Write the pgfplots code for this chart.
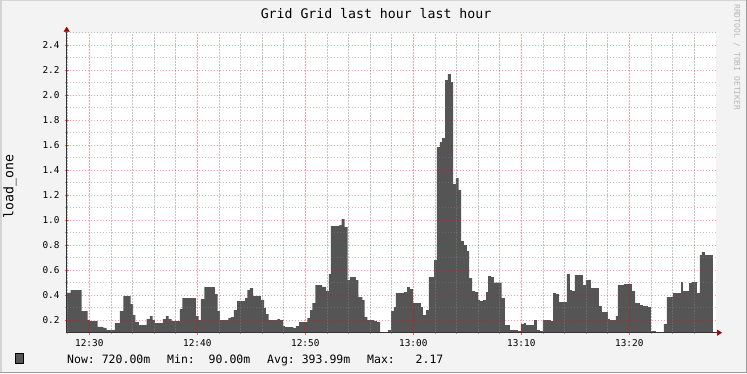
\documentclass[border=0pt]{standalone}
\usepackage{pgfplots}
\pgfplotsset{compat=1.18}
\usepackage{fontspec}
\setmainfont{DejaVu Sans Mono}
\usetikzlibrary{arrows.meta}
\definecolor{bg}{HTML}{F3F3F3}
\definecolor{areac}{HTML}{555555}
\definecolor{mgrid}{HTML}{FF0000}
\definecolor{arrowc}{HTML}{A00000}
\definecolor{shadea}{HTML}{D4D4D4}
\definecolor{shadeb}{HTML}{9A9A9A}
\begin{document}
\begin{tikzpicture}[x=1pt,y=1pt]
\useasboundingbox (0,0) rectangle (747,373);
\fill[bg] (0,0) rectangle (747,373);
\draw[shadea, line width=1.5pt] (0.75,0) -- (0.75,372.25) -- (747,372.25);
\draw[shadeb, line width=1.5pt] (0,0.75) -- (746.25,0.75) -- (746.25,373);
\begin{axis}[
  at={(66.7pt,40.3pt)}, anchor=south west,
  scale only axis, width=649.3pt, height=300pt,
  xmin=-2.09, xmax=58.03, ymin=0.1, ymax=2.5,
  axis background/.style={fill=white},
  axis on top,
  axis x line*=bottom, axis y line*=left,
  axis line style={draw=black!80, line width=0.7pt},
  x axis line style={-{Triangle[length=5pt,width=6pt,color=arrowc]}, shorten >=-6pt},
  y axis line style={-{Triangle[length=5pt,width=6pt,color=arrowc]}, shorten >=-6pt},
  xtick={0,10,20,30,40,50},
  xticklabels={12:30,12:40,12:50,13:00,13:10,13:20},
  minor xtick={-2,2,4,6,8,12,14,16,18,22,24,26,28,32,34,36,38,42,44,46,48,52,54,56},
  ytick={0.2,0.4,0.6,0.8,1.0,1.2,1.4,1.6,1.8,2.0,2.2,2.4},
  yticklabels={0.2,0.4,0.6,0.8,1.0,1.2,1.4,1.6,1.8,2.0,2.2,2.4},
  minor ytick={0.3,0.5,0.7,0.9,1.1,1.3,1.5,1.7,1.9,2.1,2.3,2.5},
  grid=both,
  major grid style={draw=mgrid, draw opacity=0.38, line width=0.6pt, dash pattern=on 1.5pt off 1.5pt},
  minor grid style={draw=gray, draw opacity=0.45, line width=0.6pt, dash pattern=on 1.5pt off 1.5pt},
  tick align=center, major tick length=4pt, minor tick length=3pt,
  major tick style={draw=mgrid, draw opacity=0.6, line width=0.6pt},
  minor tick style={draw=gray, draw opacity=0.6, line width=0.6pt},
  tick label style={font=\fontsize{9.4}{11}\selectfont, text=black},
  xticklabel style={anchor=base, inner sep=0pt, yshift=-12pt},
  yticklabel style={anchor=east, inner sep=0pt, xshift=-5pt},
  /pgf/number format/assume math mode=true,
  clip=true,
]
\addplot[const plot, fill=areac, draw=none] coordinates {
(-2.04,0.418) (-1.72,0.44) (-0.70,0.272) (-0.15,0.2) (0.06,0.192) (0.78,0.146)
(1.30,0.139) (1.61,0.12) (2.38,0.176) (2.84,0.272) (3.15,0.392) (3.83,0.328)
(4.07,0.24) (4.26,0.184) (4.60,0.16) (5.31,0.208) (5.62,0.232) (5.87,0.2)
(6.08,0.176) (6.82,0.208) (7.10,0.232) (7.35,0.208) (7.63,0.192) (8.40,0.288)
(8.61,0.376) (9.88,0.232) (10.13,0.2) (10.34,0.368) (10.65,0.464) (11.64,0.408)
(11.89,0.272) (12.10,0.2) (12.87,0.216) (13.12,0.224) (13.40,0.28) (13.68,0.352)
(14.42,0.376) (14.63,0.44) (14.88,0.456) (15.16,0.392) (15.90,0.36) (16.18,0.296)
(16.36,0.248) (16.61,0.2) (17.41,0.208) (17.66,0.2) (17.96,0.152) (18.12,0.144)
(18.89,0.136) (19.14,0.152) (19.44,0.184) (20.19,0.216) (20.44,0.28) (20.65,0.336)
(20.93,0.48) (21.57,0.467) (21.92,0.432) (22.19,0.568) (22.38,0.952) (23.15,0.96)
(23.37,1.008) (23.65,0.944) (23.93,0.52) (24.14,0.544) (24.69,0.52) (24.91,0.384)
(25.28,0.36) (25.50,0.224) (25.74,0.2) (26.39,0.192) (26.64,0.184) (26.92,0.104)
(27.19,0.09) (27.66,0.12) (27.94,0.272) (28.21,0.304) (28.40,0.416) (29.14,0.424)
(29.42,0.464) (29.69,0.448) (29.97,0.336) (30.71,0.304) (30.90,0.24) (31.18,0.28)
(31.45,0.544) (31.92,0.68) (32.19,1.584) (32.47,1.624) (32.66,1.656) (32.94,2.12)
(33.21,2.168) (33.49,2.104) (33.68,1.288) (33.95,1.336) (34.20,1.24) (34.42,0.832)
(34.69,0.8) (34.97,0.752) (35.16,0.536) (35.44,0.432) (35.72,0.424) (36.00,0.36)
(36.19,0.352) (36.47,0.36) (36.75,0.424) (36.92,0.552) (37.20,0.544) (37.47,0.5)
(38.19,0.376) (38.49,0.16) (38.95,0.12) (39.69,0.112) (39.97,0.168) (40.25,0.176)
(40.43,0.16) (41.18,0.2) (41.45,0.12) (41.73,0.112) (42.01,0.2) (42.75,0.192)
(42.94,0.416) (43.21,0.408) (43.49,0.344) (44.23,0.568) (44.51,0.44) (44.69,0.432)
(44.97,0.56) (45.71,0.48) (45.99,0.52) (46.45,0.456) (47.19,0.312) (47.47,0.264)
(48.02,0.208) (48.21,0.2) (48.76,0.232) (48.95,0.48) (49.51,0.488) (50.25,0.432)
(50.53,0.336) (50.99,0.32) (51.27,0.312) (51.73,0.304) (52.01,0.112) (52.47,0.104)
(53.21,0.168) (53.49,0.384) (54.05,0.416) (54.79,0.504) (54.97,0.432) (55.53,0.496)
(55.81,0.504) (56.27,0.416) (56.54,0.72) (56.73,0.744) (57.01,0.72) (57.75,0.72)
} \closedcycle;
\end{axis}
\node[font=\fontsize{13.2}{15}\selectfont, anchor=base, inner sep=0pt] at (376,354.7) {Grid Grid last hour last hour};
\node[font=\fontsize{13.2}{15}\selectfont, rotate=90, inner sep=0pt] at (10,186.5) {load\_one};
\node[font=\fontsize{8}{9}\selectfont, rotate=-90, anchor=west, inner sep=0pt, text=black!28] at (737,369) {RRDTOOL / TOBI OETIKER};
\filldraw[fill=areac, draw=black, line width=0.8pt] (15.7,9.8) rectangle (23.5,19.2);
\begin{scope}[every node/.style={font=\fontsize{11.5}{13}\selectfont, anchor=base west, inner sep=0pt}]
\node at (67,10) {Now:~720.00m};
\node at (167,10) {Min:~~90.00m};
\node at (267,10) {Avg:~393.99m};
\node at (367,10) {Max:~~~2.17};
\end{scope}
\end{tikzpicture}
\end{document}
